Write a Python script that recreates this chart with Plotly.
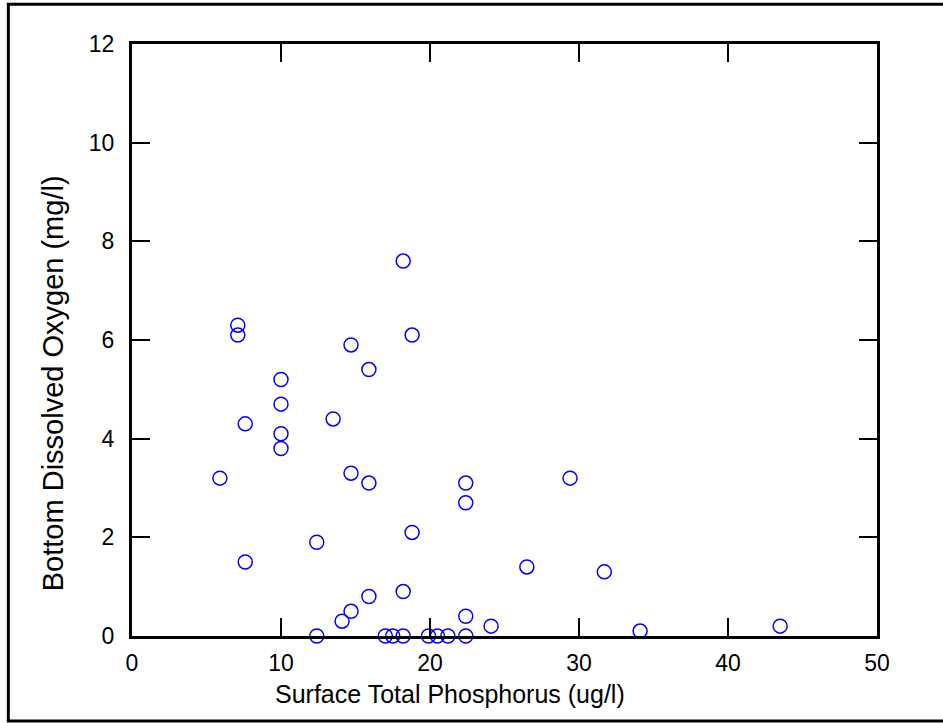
import plotly.graph_objects as go

# Surface Total Phosphorus (ug/l)
phosphorus = [5.9, 7.1, 7.1, 7.6, 7.6, 10.0, 10.0, 10.0, 10.0, 12.4, 12.4, 13.5,
              14.1, 14.7, 14.7, 14.7, 15.9, 15.9, 15.9, 17.0, 17.5, 18.2, 18.2,
              18.2, 18.8, 18.8, 19.9, 20.5, 21.2, 22.4, 22.4, 22.4, 22.4, 24.1,
              26.5, 29.4, 31.7, 34.1, 43.5]
# Bottom Dissolved Oxygen (mg/l)
oxygen = [3.2, 6.3, 6.1, 4.3, 1.5, 5.2, 4.7, 4.1, 3.8, 1.9, 0.0, 4.4,
          0.3, 5.9, 3.3, 0.5, 5.4, 3.1, 0.8, 0.0, 0.0, 7.6, 0.9,
          0.0, 6.1, 2.1, 0.0, 0.0, 0.0, 3.1, 2.7, 0.4, 0.0, 0.2,
          1.4, 3.2, 1.3, 0.1, 0.2]

x_ticks = [0, 10, 20, 30, 40, 50]
y_ticks = [0, 2, 4, 6, 8, 10, 12]
x_title = "Surface Total Phosphorus (ug/l)"
y_title = "Bottom Dissolved Oxygen (mg/l)"

FONT = "Liberation Sans, Arial, sans-serif"

fig = go.Figure()
fig.add_trace(go.Scatter(
    x=phosphorus, y=oxygen, mode="markers",
    marker=dict(symbol="circle-open", size=14, color="#0000ff",
                line=dict(width=1.5, color="#0000ff")),
    cliponaxis=False, showlegend=False,
))

axis_common = dict(
    showline=True, linecolor="black", linewidth=3, mirror="ticks",
    ticks="inside", ticklen=18, tickwidth=2, tickcolor="black",
    showgrid=False, zeroline=False,
    tickfont=dict(family=FONT, size=23, color="black"),
)

fig.update_xaxes(range=[0, 50], tickvals=x_ticks, ticktext=[str(v) for v in x_ticks],
                 ticklabelstandoff=4, **axis_common)
fig.update_yaxes(range=[0, 12], tickvals=y_ticks, ticktext=[str(v) for v in y_ticks],
                 ticklabelstandoff=10, **axis_common)

fig.add_annotation(text=x_title, xref="paper", yref="paper", x=0.4265, y=-0.098,
                   xanchor="center", yanchor="middle", showarrow=False,
                   font=dict(family=FONT, size=25, color="black"))
fig.add_annotation(text=y_title, xref="paper", yref="paper", x=-0.106, y=0.427,
                   xanchor="center", yanchor="middle", showarrow=False, textangle=-90,
                   font=dict(family=FONT, size=29, color="black"))

fig.add_shape(type="rect", xref="paper", yref="paper",
              x0=-0.166, x1=1.1, y0=-0.1436, y1=1.067,
              line=dict(color="black", width=3), fillcolor="rgba(0,0,0,0)",
              layer="below")

fig.update_layout(
    width=943, height=723,
    margin=dict(l=132, r=66, t=44, b=87),
    plot_bgcolor="white", paper_bgcolor="white",
    font=dict(family=FONT, size=23, color="black"),
)

fig.write_html("out.html")
